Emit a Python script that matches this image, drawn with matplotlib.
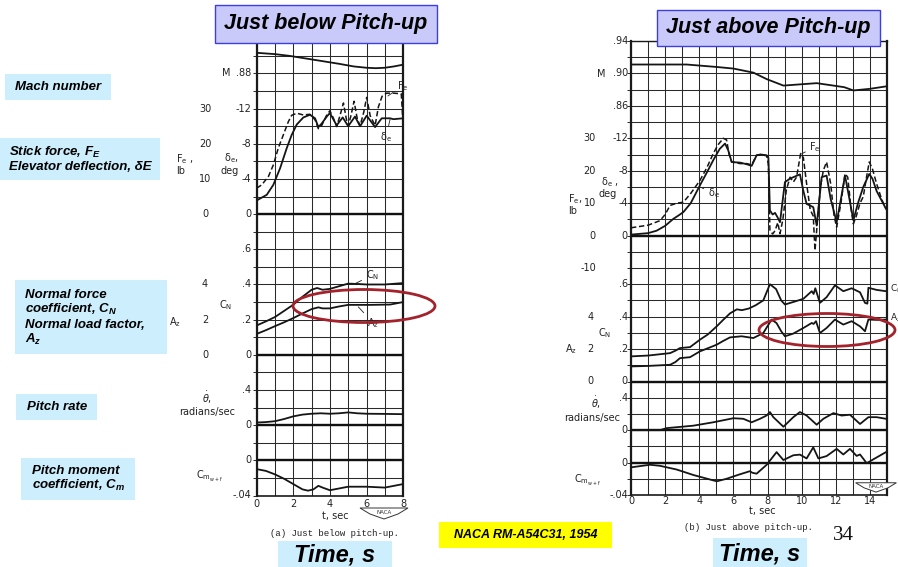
import numpy as np
import matplotlib
matplotlib.use("Agg")
import matplotlib.pyplot as plt
from matplotlib.patches import Rectangle, Ellipse, Polygon

# ---------------- data ----------------
# Left chart: just below pitch-up (t = 0..8 s)
left_t_mach = [0, 1, 1.8, 2.7, 3.6, 4.5, 5.3, 6.0, 6.5, 7.0, 7.5, 8.0]
left_mach = [.9035, .902, .900, .897, .894, .891, .888, .8865, .886, .8865, .888, .890]

left_t_fe = [0, .27, .64, .91, 1.18, 1.46, 1.73, 1.91, 2.19, 2.55, 2.91, 3.19, 3.37, 3.55,
             3.83, 4.0, 4.19, 4.37, 4.55, 4.74, 4.9, 5.0, 5.15, 5.32, 5.5, 5.65, 5.85,
             6.01, 6.2, 6.47, 6.65, 6.85, 7.1, 7.5, 7.9, 7.95, 8.0]
left_fe = [7.4, 8.3, 10.7, 14.0, 18.8, 22.6, 26.3, 28.1, 28.7, 28.2, 28.4, 26.8, 24.3, 25.2,
           28.2, 29.4, 27.3, 24.9, 28.0, 31.6, 27.0, 25.1, 28.0, 32.1, 27.0, 25.1, 29.0,
           33.2, 28.0, 25.2, 30.5, 33.5, 34.4, 34.4, 34.2, 30.0, 25.2]

left_t_de = [0, .55, .91, 1.28, 1.64, 1.91, 2.19, 2.55, 2.91, 3.19, 3.37, 3.55, 3.83, 4.0,
             4.37, 4.7, 5.0, 5.37, 5.65, 6.01, 6.47, 6.83, 7.29, 7.47, 8.0]
left_de = [-1.56, -2.2, -3.34, -5.23, -7.5, -9.0, -10.2, -11.0, -11.3, -10.9, -9.9, -10.3,
           -11.1, -11.5, -10.1, -11.0, -10.0, -11.1, -10.0, -11.2, -9.9, -10.9, -10.9, -10.8, -10.9]

left_t_cn = [0, .5, 1.0, 1.5, 2.0, 2.5, 3.0, 3.3, 3.6, 4.0, 4.5, 5.0, 5.5, 6.0, 7.0, 8.0]
left_cn = [.167, .19, .215, .25, .285, .33, .37, .38, .37, .375, .39, .405, .403, .40, .40, .408]

left_t_az = [0, .5, 1, 1.5, 2, 2.5, 3.0, 3.37, 3.6, 4.0, 4.5, 5.0, 5.5, 6.2, 7.3, 8.0]
left_az = [1.19, 1.4, 1.63, 1.85, 2.09, 2.35, 2.6, 2.7, 2.64, 2.64, 2.75, 2.84, 2.84, 2.84, 2.86, 3.0]

left_t_q = [0, .5, 1, 1.5, 2, 2.5, 3, 3.5, 4, 4.5, 5, 5.5, 6, 7, 8]
left_q = [.03, .035, .045, .07, .10, .12, .13, .135, .13, .135, .145, .135, .13, .128, .125]

left_t_cm = [0, .5, 1, 1.5, 2, 2.5, 2.8, 3.1, 3.37, 3.6, 4, 4.5, 5, 6, 7, 8]
left_cm = [-.010, -.012, -.016, -.021, -.027, -.033, -.0345, -.033, -.029, -.031, -.034,
           -.032, -.030, -.030, -.031, -.027]

# Right chart: just above pitch-up (t = 0..15 s)
right_t_mach = [0, 1.5, 3.26, 5.0, 6.0, 7.17, 7.95, 8.93, 9.9, 10.88, 11.86, 12.5, 13.03, 14.0, 14.94]
right_mach = [.911, .911, .911, .908, .906, .901, .893, .885, .8865, .888, .885, .883, .879, .881, .884]

right_t_fe = [0, 1.0, 1.7, 2.0, 2.29, 2.7, 3.07, 3.5, 4.04, 4.45, 4.82, 5.1, 5.41, 5.6, 5.75,
              5.9, 6.39, 6.78, 7.07, 7.36, 7.6, 7.95, 8.05, 8.14, 8.3, 8.44, 8.6, 8.73, 8.9,
              9.1, 9.32, 9.51, 9.7, 9.94, 10.1, 10.29, 10.5, 10.68, 10.78, 10.95, 11.1, 11.27,
              11.46, 11.7, 11.9, 12.05, 12.3, 12.54, 12.7, 12.9, 13.03, 13.2, 13.42, 13.61,
              13.8, 13.96, 14.15, 14.39, 14.7, 14.94]
right_fe = [2.4, 3.2, 4.6, 6.5, 9.3, 10.0, 10.3, 13.0, 17.0, 21.0, 25.3, 28.0, 30.0, 29.5, 25.0,
            22.7, 22.2, 22.2, 21.8, 24.8, 25.0, 24.6, 22.0, 1.5, 0.5, 1.5, 4.0, 0.6, 5.0,
            14.0, 18.0, 16.5, 18.0, 25.3, 24.0, 16.0, 8.0, 6.0, -4.6, 6.0, 15.0, 20.1,
            22.7, 16.0, 6.0, 2.6, 10.0, 19.1, 18.0, 8.0, 3.6, 6.0, 10.0, 12.0,
            18.0, 22.7, 20.5, 16.0, 11.0, 8.3]

right_t_de = [0, 1.0, 1.5, 2.0, 2.48, 2.8, 3.07, 3.5, 4.04, 4.45, 4.82, 5.2, 5.51, 5.7, 5.9,
              6.39, 6.78, 7.07, 7.36, 7.6, 7.95, 8.05, 8.14, 8.3, 8.44, 8.6, 8.73, 9.02, 9.3,
              9.51, 9.9, 10.1, 10.29, 10.5, 10.68, 10.88, 11.17, 11.46, 11.7, 12.05, 12.3,
              12.54, 12.8, 13.03, 13.3, 13.61, 13.96, 14.15, 14.39, 14.94]
right_de = [-0.12, -0.3, -0.6, -1.2, -2.06, -2.5, -2.9, -4.0, -6.2, -7.8, -9.3, -10.7, -11.35,
            -10.5, -9.07, -9.0, -8.8, -8.6, -9.9, -10.0, -9.9, -9.6, -3.1, -2.6, -2.8, -2.2,
            -1.65, -6.6, -7.0, -7.2, -7.55, -5.5, -3.9, -3.7, -3.5, -1.24, -7.2, -7.4, -4.5,
            -1.65, -4.5, -7.4, -4.5, -1.9, -4.0, -6.0, -7.6, -7.0, -5.5, -3.3]

right_t_cn = [0, 1.0, 2.29, 2.6, 2.87, 3.46, 4.04, 4.5, 5.02, 5.4, 5.8, 6.2, 6.5, 6.9, 7.3,
              7.75, 8.14, 8.5, 8.8, 9.02, 9.5, 10.1, 10.59, 10.7, 10.8, 11.07, 11.46, 11.95,
              12.44, 12.93, 13.42, 13.71, 13.85, 13.91, 14.39, 14.94]
right_cn = [.155, .16, .175, .19, .206, .212, .258, .29, .34, .38, .42, .445, .44, .45, .47,
            .50, .60, .57, .50, .475, .49, .51, .557, .54, .575, .485, .52, .593,
            .557, .575, .55, .485, .48, .578, .565, .557]

right_t_az = [0, 1.0, 2.29, 2.6, 2.87, 3.46, 4.04, 4.5, 5.02, 5.4, 5.8, 6.48, 7.17, 7.75, 8.24,
              8.53, 8.8, 9.02, 9.5, 10.1, 10.59, 10.7, 10.84, 11.07, 11.46, 11.95, 12.44,
              12.93, 13.42, 13.71, 13.91, 14.39, 14.94]
right_az = [0.93, 0.96, 1.03, 1.2, 1.44, 1.5, 1.86, 2.05, 2.27, 2.5, 2.72, 2.79, 2.68, 2.99,
            3.82, 3.6, 3.1, 2.79, 2.95, 3.3, 3.61, 3.55, 3.72, 2.99, 3.3, 3.82, 3.51,
            3.72, 3.4, 3.1, 3.82, 3.8, 3.82]

right_t_q = [0, 1.7, 2.09, 3.65, 4.82, 6.0, 6.58, 7.07, 7.56, 7.95, 8.14, 8.34, 8.93, 9.51,
             9.9, 10.29, 10.88, 11.27, 11.86, 12.34, 12.83, 13.42, 13.91, 14.39, 14.94]
right_q = [0, 0, .025, .055, .097, .147, .14, .097, .14, .181, .223, .16, .042, .16,
           .223, .18, .067, .14, .21, .18, .19, .076, .16, .16, .14]

right_t_cm = [0, 1.11, 1.7, 2.68, 3.65, 5.02, 5.6, 6.3, 6.97, 7.1, 7.36, 7.95, 8.53, 8.93,
              9.51, 9.9, 10.29, 10.68, 10.98, 11.46, 12.05, 12.44, 12.83, 13.22, 13.42,
              13.81, 14.2, 14.94]
right_cm = [-.0059, -.0027, -.004, -.0086, -.0153, -.0231, -.020, -.015, -.0106, -.0125,
            -.0137, -.0027, .0129, .0031, .009, .0098, .0051, .0188, .0051, .008, .0169,
            .010, .0169, .0082, .010, -.0008, .004, .0129]

# tick values / labels
left_xticks = [0, 2, 4, 6, 8]
right_xticks = [0, 2, 4, 6, 8, 10, 12, 14]
left_mach_ticks, left_mach_labels = [.88], [".88"]
right_mach_ticks, right_mach_labels = [.94, .90, .86], [".94", ".90", ".86"]
de_ticks, de_labels = [0, -4, -8, -12], ["0", "-4", "-8", "-12"]
left_fe_ticks, left_fe_labels = [0, 10, 20, 30], ["0", "10", "20", "30"]
right_fe_ticks, right_fe_labels = [-10, 0, 10, 20, 30], ["-10", "0", "10", "20", "30"]
cn_ticks, cn_labels = [0, .2, .4, .6], ["0", ".2", ".4", ".6"]
az_ticks, az_labels = [0, 2, 4], ["0", "2", "4"]
q_ticks, q_labels = [0, .4], ["0", ".4"]
cm_ticks, cm_labels = [0, -.04], ["0", "-.04"]

# ---------------- figure ----------------
W, H = 898, 567
plt.rcParams["mathtext.it"] = "Liberation Sans:italic:bold"
plt.rcParams["mathtext.rm"] = "Liberation Sans:italic:bold"
plt.rcParams["mathtext.bf"] = "Liberation Sans:italic:bold"
fig = plt.figure(figsize=(W / 100, H / 100), dpi=100)
fig.patch.set_facecolor("white")

INK = "#151515"
LBL = dict(family="DejaVu Sans", fontsize=7, color="#222222")


def ftext(px, py, s, **kw):
    return fig.text(px / W, 1 - py / H, s, **kw)


def frect(x0, y0, x1, y1, fc, ec="none", lw=0, z=2):
    fig.add_artist(Rectangle((x0 / W, 1 - y1 / H), (x1 - x0) / W, (y1 - y0) / H,
                             transform=fig.transFigure, facecolor=fc, edgecolor=ec,
                             linewidth=lw, zorder=z))


class Chart:
    def __init__(self, x0, x1, top, bot, T, n):
        self.x0, self.x1, self.top, self.bot, self.T, self.n = x0, x1, top, bot, T, n
        self.sp = (bot - top) / n
        g = fig.add_axes([x0 / W, 1 - bot / H, (x1 - x0) / W, (bot - top) / H])
        g.set_xlim(0, T)
        g.set_ylim(0, n)
        g.set_xticks(np.arange(0, T + 1))
        g.set_yticks(np.arange(0, n + 1))
        g.grid(True, color="#2a2a2a", lw=0.75)
        g.tick_params(labelleft=False, labelbottom=False, bottom=False, left=True,
                      direction="out", length=3, width=0.7, color="#2a2a2a")
        for s in ["left", "right"]:
            g.spines[s].set_linewidth(1.6)
        g.spines["bottom"].set_linewidth(1.2)
        g.spines["top"].set_linewidth(1.0)
        for s in g.spines.values():
            s.set_color("#1a1a1a")
        g.set_facecolor("white")
        self.g = g

    def panel(self, k, ref_v, units_per_line, thick_zero=False):
        ref_px = self.bot - k * self.sp
        ppu = self.sp / units_per_line
        ax = fig.add_axes(self.g.get_position())
        ax.set_xlim(0, self.T)
        ax.set_ylim(ref_v - (self.bot - ref_px) / ppu, ref_v + (ref_px - self.top) / ppu)
        ax.axis("off")
        if thick_zero:
            ax.axhline(0, color="#111111", lw=1.7)
        return ax

    def xa(self, px):
        return (px - self.x0) / (self.x1 - self.x0)

    def ylabels(self, ax, px, ticks, labels, ha="right"):
        for v, s in zip(ticks, labels):
            ax.text(self.xa(px), v, s, transform=ax.get_yaxis_transform(), ha=ha,
                    va="center", clip_on=False, **LBL)

    def xlabels(self, ticks, py):
        ya = -(py - self.bot) / (self.bot - self.top)
        for v in ticks:
            self.g.text(v, ya, str(v), transform=self.g.get_xaxis_transform(),
                        ha="center", va="center", **LBL)


def curve(ax, t, y, dashed=False):
    if dashed:
        ax.plot(t, y, color=INK, lw=1.1, dashes=(3.5, 1.8), solid_joinstyle="round")
    else:
        ax.plot(t, y, color=INK, lw=1.3, solid_joinstyle="round")


def lead(ax, text, xy, xytext, fs=7):
    ax.annotate(text, xy=xy, xytext=xytext, textcoords="data", ha="left", va="center",
                fontsize=fs, family="DejaVu Sans", color="#222222", annotation_clip=False,
                arrowprops=dict(arrowstyle="-", lw=0.6, color="#222222", shrinkA=1, shrinkB=0))


def naca_logo(cx, cy, s=1.0):
    pts = [(-24, -5), (24, -5), (14, 1), (0, 6), (-14, 1)]
    poly = [((cx + s * x) / W, 1 - (cy + s * y) / H) for x, y in pts]
    fig.add_artist(Polygon(poly, closed=True, transform=fig.transFigure, facecolor="white",
                           edgecolor="#333333", lw=0.7, zorder=3))
    ftext(cx, cy - 0.5, "NACA", fontsize=4, family="DejaVu Sans", ha="center", va="center",
          color="#333333", zorder=4)


# ---------------- left chart ----------------
L = Chart(256.7, 403.1, 38.3, 495.5, 8, 26)
l_mach = L.panel(24, .88, .02)
l_fe = L.panel(16, 0, 5)
l_de = L.panel(16, 0, -2, thick_zero=True)
l_cn = L.panel(8, 0, .1, thick_zero=True)
l_az = L.panel(8, 0, 1)
l_q = L.panel(4, 0, .2, thick_zero=True)
l_cm = L.panel(2, 0, .02, thick_zero=True)

curve(l_mach, left_t_mach, left_mach)
curve(l_fe, left_t_fe, left_fe, dashed=True)
curve(l_de, left_t_de, left_de)
curve(l_cn, left_t_cn, left_cn)
curve(l_az, left_t_az, left_az)
curve(l_q, left_t_q, left_q)
curve(l_cm, left_t_cm, left_cm)

L.ylabels(l_mach, 251, left_mach_ticks, left_mach_labels)
L.ylabels(l_de, 251, de_ticks, de_labels)
L.ylabels(l_cn, 251, cn_ticks, cn_labels)
L.ylabels(l_q, 251, q_ticks, q_labels)
L.ylabels(l_cm, 251, cm_ticks, cm_labels)
L.ylabels(l_fe, 205, left_fe_ticks, left_fe_labels, ha="center")
L.ylabels(l_az, 205, az_ticks, az_labels, ha="center")
L.xlabels(left_xticks, 504)

ftext(226, 73, "M", ha="center", va="center", **LBL)
ftext(231, 158, r"$\mathregular{\delta_e}$,", ha="center", va="center", **LBL)
ftext(230, 171, "deg", ha="center", va="center", **LBL)
ftext(176, 159, r"$\mathregular{F_e}$ ,", ha="left", va="center", **LBL)
ftext(176, 171, "lb", ha="left", va="center", **LBL)
ftext(226, 305, r"$\mathregular{C_N}$", ha="center", va="center", **LBL)
ftext(175, 322, r"$\mathregular{A_z}$", ha="center", va="center", **LBL)
ftext(207, 398, r"$\dot{\theta}$,", ha="center", va="center", **LBL)
ftext(207, 412, "radians/sec", ha="center", va="center", **LBL)
ftext(210, 476, r"$\mathregular{C_{m_{w+f}}}$", ha="center", va="center", **LBL)
ftext(335, 516, "t, sec", ha="center", va="center", **LBL)
ftext(335, 533, "(a) Just below pitch-up.", ha="center", va="center",
      family="Liberation Mono", fontsize=6.5, color="#222222")
naca_logo(384, 513)

lead(l_fe, r"$\mathregular{F_e}$", (7.17, 33.6), (7.65, 36.5))
lead(l_de, r"$\mathregular{\delta_e}$", (7.3, -10.9), (6.75, -8.8))
lead(l_cn, r"$\mathregular{C_N}$", (5.28, .40), (5.95, .453))
lead(l_az, r"$\mathregular{A_z}$", (5.55, 2.73), (6.05, 1.8))

# ---------------- right chart ----------------
R = Chart(631, 887, 41, 495, 15, 28)
r_mach = R.panel(26, .90, .02)
r_fe = R.panel(16, 0, 5)
r_de = R.panel(16, 0, -2, thick_zero=True)
r_cn = R.panel(7, 0, .1, thick_zero=True)
r_az = R.panel(7, 0, 1)
r_q = R.panel(4, 0, .2, thick_zero=True)
r_cm = R.panel(2, 0, .02, thick_zero=True)

curve(r_mach, right_t_mach, right_mach)
curve(r_fe, right_t_fe, right_fe, dashed=True)
curve(r_de, right_t_de, right_de)
curve(r_cn, right_t_cn, right_cn)
curve(r_az, right_t_az, right_az)
curve(r_q, right_t_q, right_q)
curve(r_cm, right_t_cm, right_cm)

R.ylabels(r_mach, 628, right_mach_ticks, right_mach_labels)
R.ylabels(r_de, 628, de_ticks, de_labels)
R.ylabels(r_cn, 628, cn_ticks, cn_labels)
R.ylabels(r_q, 628, q_ticks, q_labels)
R.ylabels(r_cm, 628, cm_ticks, cm_labels)
R.ylabels(r_fe, 596, right_fe_ticks, right_fe_labels)
R.ylabels(r_az, 594, az_ticks, az_labels)
R.xlabels(right_xticks, 501)

ftext(601, 74, "M", ha="center", va="center", **LBL)
ftext(610, 182, r"$\mathregular{\delta_e}$ ,", ha="center", va="center", **LBL)
ftext(608, 194, "deg", ha="center", va="center", **LBL)
ftext(568, 199, r"$\mathregular{F_e}$,", ha="left", va="center", **LBL)
ftext(568, 211, "lb", ha="left", va="center", **LBL)
ftext(605, 333, r"$\mathregular{C_N}$", ha="center", va="center", **LBL)
ftext(571, 349, r"$\mathregular{A_z}$", ha="center", va="center", **LBL)
ftext(596, 403, r"$\dot{\theta}$,", ha="center", va="center", **LBL)
ftext(592, 418, "radians/sec", ha="center", va="center", **LBL)
ftext(588, 480, r"$\mathregular{C_{m_{w+f}}}$", ha="center", va="center", **LBL)
ftext(762, 511, "t, sec", ha="center", va="center", **LBL)
ftext(748, 528, "(b) Just above pitch-up.", ha="center", va="center",
      family="Liberation Mono", fontsize=6.5, color="#222222")
naca_logo(876, 487, s=0.85)

lead(r_fe, r"$\mathregular{F_e}$", (10.0, 25.2), (10.45, 27.4))
lead(r_de, r"$\mathregular{\delta_e}$", (4.04, -6.0), (4.5, -5.2))
lead(r_cn, r"$\mathregular{C_N}$", (14.94, .557), (15.2, .57), fs=6.5)
lead(r_az, r"$\mathregular{A_z}$", (14.94, 3.82), (15.2, 3.95), fs=6.5)

# ---------------- slide decorations ----------------
# title boxes
frect(215, 5, 437, 43, "#c9c9fa", "#3d3de0", 1.0)
ftext(326, 24, "Just below Pitch-up", ha="center", va="center", family="Liberation Sans",
      weight="bold", style="italic", fontsize=15.5, color="black", zorder=3)
frect(657, 10, 880, 46, "#c9c9fa", "#3d3de0", 1.0)
ftext(768.5, 28, "Just above Pitch-up", ha="center", va="center", family="Liberation Sans",
      weight="bold", style="italic", fontsize=15.5, color="black", zorder=3)

SIDE = dict(family="Liberation Sans", weight="bold", style="italic", fontsize=9.5,
            color="black", ha="left", va="center", math_fontfamily="custom",
            linespacing=1.15, zorder=3)
CYAN = "#cdeefc"
frect(5, 74, 111, 100, CYAN)
ftext(15, 87, "Mach number", **SIDE)
frect(0, 138, 160, 180, CYAN)
ftext(9, 159, "Stick force, $F_E$\nElevator deflection, δE", **SIDE)
frect(15, 280, 167, 354, CYAN)
ftext(25, 318, "Normal force\ncoefficient, $C_N$\nNormal load factor,\n$A_z$", **SIDE)
frect(16, 394, 97, 420, CYAN)
ftext(27, 407, "Pitch rate", **SIDE)
frect(21, 458, 135, 500, CYAN)
ftext(32, 479, "Pitch moment\ncoefficient, $C_m$", **SIDE)

# red ellipses
for cx, cy, w, h in [(364, 306, 142, 33), (827, 330, 136, 33)]:
    fig.add_artist(Ellipse((cx / W, 1 - cy / H), w / W, h / H, transform=fig.transFigure,
                           facecolor="none", edgecolor="#a3222b", lw=2.0, zorder=5))

# bottom boxes
frect(439, 522, 612, 548, "#ffff00")
ftext(525.5, 535, "NACA RM-A54C31, 1954", ha="center", va="center", family="Liberation Sans",
      weight="bold", style="italic", fontsize=9, color="black", zorder=3)
frect(278, 541, 392, 567, CYAN)
ftext(335, 555, "Time, s", ha="center", va="center", family="Liberation Sans",
      weight="bold", style="italic", fontsize=17, color="black", zorder=3)
frect(713, 538, 807, 567, CYAN)
ftext(760, 554, "Time, s", ha="center", va="center", family="Liberation Sans",
      weight="bold", style="italic", fontsize=17, color="black", zorder=3)
ftext(843, 536, "34", ha="center", va="center", family="Liberation Serif", fontsize=15,
      color="#111111", zorder=3)

fig.savefig("out.png", dpi=100)
